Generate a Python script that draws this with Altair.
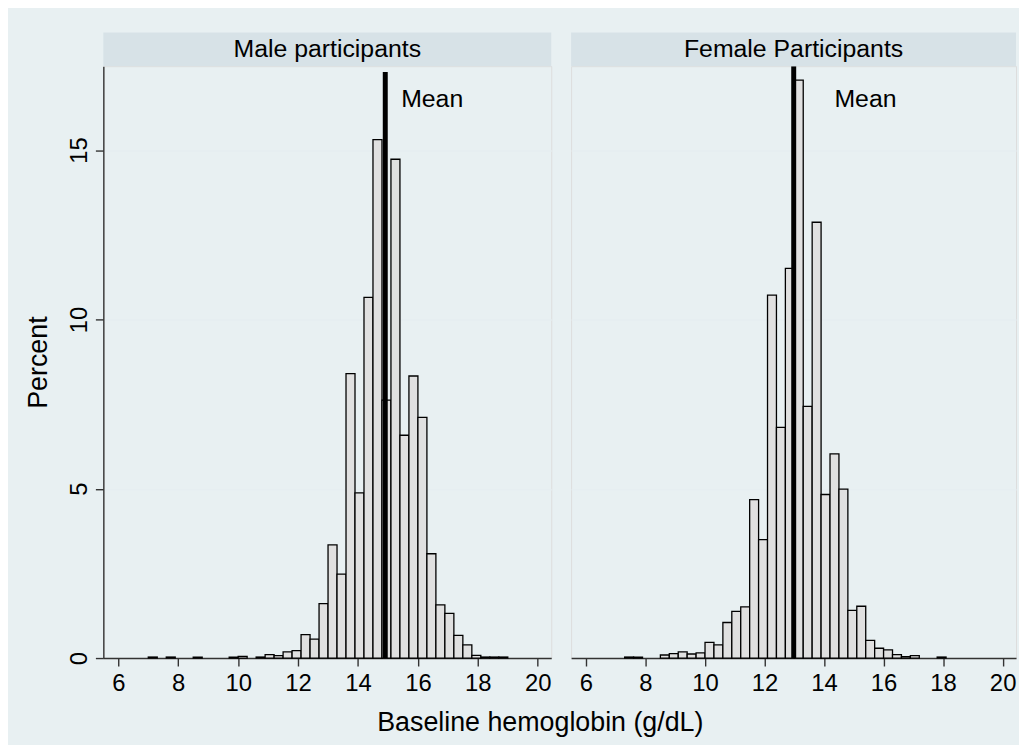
import altair as alt
import pandas as pd

# ---------------- data ----------------
BIN_WIDTH = 0.3

male_bin_left = [7.0, 7.6, 8.5, 9.7, 10.0, 10.6, 10.9, 11.2, 11.5, 11.8,
                 12.1, 12.4, 12.7, 13.0, 13.3, 13.6, 13.9, 14.2, 14.5, 14.8,
                 15.1, 15.4, 15.7, 16.0, 16.3, 16.6, 16.9, 17.2, 17.5, 17.8,
                 18.1, 18.4, 18.7]
male_percent = [0.03, 0.03, 0.03, 0.03, 0.05, 0.03, 0.10, 0.07, 0.18, 0.22,
                0.69, 0.56, 1.61, 3.34, 2.48, 8.40, 4.88, 10.65, 15.31, 7.62,
                14.73, 6.58, 8.33, 7.11, 3.08, 1.57, 1.32, 0.67, 0.39, 0.08,
                0.03, 0.03, 0.03]

female_bin_left = [7.3, 7.6, 8.5, 8.8, 9.1, 9.4, 9.7, 10.0, 10.3, 10.6,
                   10.9, 11.2, 11.5, 11.8, 12.1, 12.4, 12.7, 13.0, 13.3, 13.6,
                   13.9, 14.2, 14.5, 14.8, 15.1, 15.4, 15.7, 16.0, 16.3, 16.6,
                   16.9, 17.8]
female_percent = [0.03, 0.03, 0.09, 0.13, 0.18, 0.12, 0.15, 0.46, 0.39, 1.05,
                  1.38, 1.51, 4.68, 3.50, 10.72, 6.81, 11.51, 17.07, 7.43, 12.87,
                  4.83, 6.03, 4.99, 1.41, 1.53, 0.52, 0.29, 0.24, 0.10, 0.04,
                  0.07, 0.03]

panel_titles = ["Male participants", "Female Participants"]
mean_values = [14.91, 12.98]
mean_line_top = [17.31, 17.48]
mean_label = "Mean"
x_ticks = [6, 8, 10, 12, 14, 16, 18, 20]
y_ticks = [0, 5, 10, 15]
x_title = "Baseline hemoglobin (g/dL)"
y_title = "Percent"

# ---------------- style ----------------
FONT = "Liberation Sans"
BG = "#E8F0F2"
STRIP = "#D7E2E7"
GRID = "#E6EEF1"
BAR_FILL = "#E0E0E0"
W, H = 451, 596
X_DOMAIN = [5.5, 20.45]
Y_DOMAIN = [0, 17.48]


def panel(lefts, pcts, title, mean, top, label_dx, show_y, width):
    df = pd.DataFrame({"lo": lefts, "pct": pcts})
    df["hi"] = df["lo"] + BIN_WIDTH
    df["zero"] = 0.0
    xscale = alt.Scale(domain=X_DOMAIN, nice=False, zero=False)
    yscale = alt.Scale(domain=Y_DOMAIN, nice=False)
    xaxis = alt.Axis(values=x_ticks, title=None, grid=False, labelFontSize=24,
                     tickSize=8, labelPadding=6, domainColor="#333333",
                     tickColor="#333333", domainWidth=1.4, tickWidth=1.4,
                     labelColor="black", labelFont=FONT)
    if show_y:
        yaxis = alt.Axis(values=y_ticks, title=y_title, grid=True, gridColor=GRID,
                         gridWidth=1.5, labelAngle=270, labelAlign="center",
                         labelBaseline="bottom", labelFontSize=24, labelPadding=4,
                         tickSize=8, domainColor="#333333", tickColor="#333333",
                         domainWidth=1.4, tickWidth=1.4, titleFontSize=27,
                         titleFontWeight="normal", titlePadding=15,
                         labelColor="black", titleColor="black",
                         labelFont=FONT, titleFont=FONT)
    else:
        yaxis = alt.Axis(values=y_ticks, title=None, grid=True, gridColor=GRID,
                         gridWidth=1.5, labels=False, ticks=False, domain=False)

    bars = alt.Chart(df).mark_bar(fill=BAR_FILL, stroke="black", strokeWidth=1.3).encode(
        x=alt.X("lo:Q", scale=xscale, axis=xaxis),
        x2="hi:Q",
        y=alt.Y("pct:Q", scale=yscale, axis=yaxis),
        y2="zero:Q",
    )

    mdf = pd.DataFrame({"m": [mean], "base": [0.0], "top": [top],
                        "label": [mean_label], "ly": [16.52]})
    rule = alt.Chart(mdf).mark_rule(strokeWidth=5, color="black").encode(
        x=alt.X("m:Q", scale=xscale),
        y=alt.Y("base:Q", scale=yscale),
        y2="top:Q",
    )
    mtext = alt.Chart(mdf).mark_text(align="left", baseline="middle", fontSize=25,
                                     font=FONT, color="black", dx=label_dx).encode(
        x=alt.X("m:Q", scale=xscale),
        y=alt.Y("ly:Q", scale=yscale),
        text="label:N",
    )

    sdf = pd.DataFrame({"t": [title]})
    strip = alt.Chart(sdf).mark_rect(fill=STRIP).encode(
        x=alt.value(0), x2=alt.value(width), y=alt.value(-34), y2=alt.value(0)
    )
    stext = alt.Chart(sdf).mark_text(fontSize=25, font=FONT, color="black",
                                     baseline="middle", align="center").encode(
        x=alt.value(width / 2), y=alt.value(-17), text="t:N"
    )
    return alt.layer(bars, rule, mtext, strip, stext).properties(width=width, height=H)


male = panel(male_bin_left, male_percent, panel_titles[0], mean_values[0],
             mean_line_top[0], 16, True, W)
female = panel(female_bin_left, female_percent, panel_titles[1], mean_values[1],
               mean_line_top[1], 41, False, 448)

chart = alt.hconcat(male, female, spacing=18).resolve_scale(
    x="independent", y="independent"
).properties(
    title=alt.TitleParams(x_title, orient="bottom", anchor="middle", fontSize=27,
                          fontWeight="normal", font=FONT, color="black",
                          offset=14, dx=20),
    background=BG,
    padding={"left": 16, "top": 21, "right": 2, "bottom": 6},
).configure_view(fill="white", stroke=None).configure(font=FONT)

chart.save("out.html", embed_options={"renderer": "svg", "actions": False})
